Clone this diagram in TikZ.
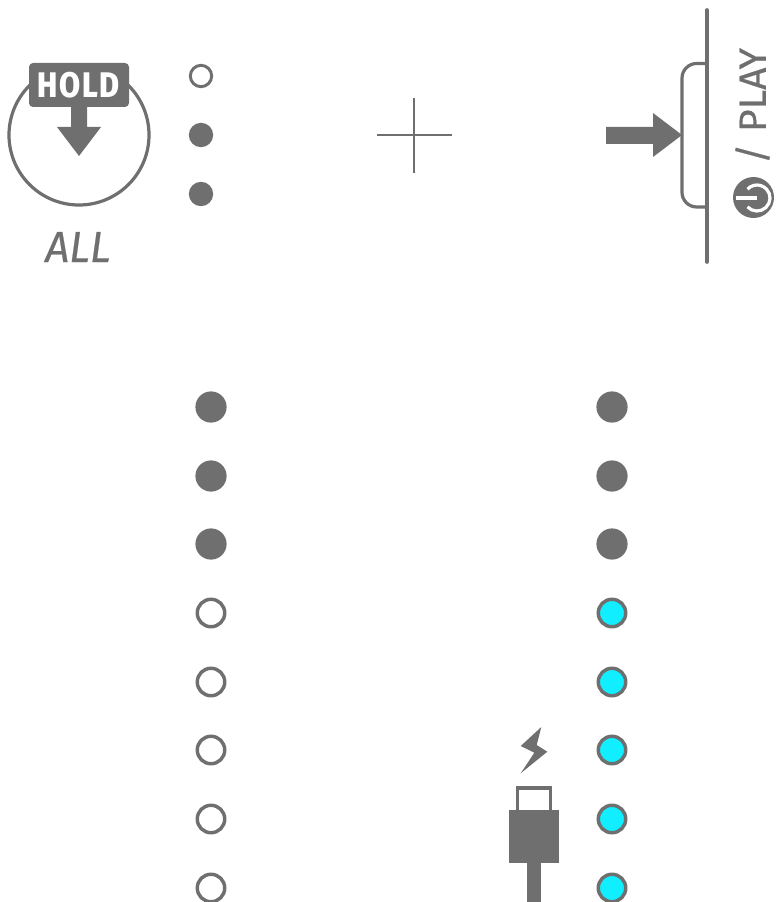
\documentclass[tikz,border=0pt]{standalone}
\usepackage{fontspec}
\usepackage{graphicx}
\setmainfont{Fira Sans}
\newfontfamily\holdfont[LetterSpace=6]{Fira Sans Medium}
\newfontfamily\labelfont[FakeBold=0.5]{Fira Sans}
\definecolor{ink}{HTML}{6F6F6F}
\definecolor{led}{HTML}{10EEFF}
\tikzset{
  x=0.75pt,y=-0.75pt,
  outline/.style={draw=ink,line width=2.4pt,fill=none},
  ledon/.style={circle,fill=ink,draw=none,inner sep=0pt,minimum size=23.4pt},
  ledoff/.style={circle,draw=ink,line width=2.6pt,fill=white,inner sep=0pt,minimum size=20.6pt},
  ledcyan/.style={circle,draw=ink,line width=2.6pt,fill=led,inner sep=0pt,minimum size=20.6pt},
  smallon/.style={circle,fill=ink,draw=none,inner sep=0pt,minimum size=18.3pt},
  smalloff/.style={circle,draw=ink,line width=2.2pt,fill=white,inner sep=0pt,minimum size=16pt},
}
\begin{document}
\begin{tikzpicture}
\useasboundingbox (0,0) rectangle (776,902);
% ALL knob
\node[circle,outline,inner sep=0pt,minimum size=105pt] (knob) at (79,135) {};
\fill[ink] (71,100) -- (87,100) -- (87,127) -- (101,127) -- (79,156) -- (57,127) -- (71,127) -- cycle;
\fill[ink,rounded corners=3pt] (29,63) rectangle (129,107);
\node[inner sep=0pt,text=white] (hold) at (78.5,85.5) {\resizebox{62pt}{19pt}{\holdfont\bfseries HOLD}};
\node[inner sep=0pt,text=ink] (all) at (78,247) {\resizebox{49pt}{22.5pt}{\labelfont\itshape ALL}};
% small LEDs
\node[smalloff] (s1) at (201,76) {};
\node[smallon] (s2) at (201,135) {};
\node[smallon] (s3) at (201,194) {};
% plus
\draw[ink,line width=1.6pt] (377,135) -- (452,135) (414,98) -- (414,173);
% button
\draw[ink,line width=2.7pt,line cap=round] (707,10) -- (707,262);
\draw[outline,rounded corners=11pt] (707,63.5) -- (682,63.5) -- (682,207) -- (707,207);
\fill[ink] (606,127) -- (653,127) -- (653,113) -- (682,135) -- (653,157) -- (653,144) -- (606,144) -- cycle;
\node[rotate=90,inner sep=0pt,text=ink] (play) at (752.5,106) {\resizebox{87pt}{23pt}{\labelfont /\kern0.3em PLAY}};
% power icon
\fill[ink] (753.5,197.5) circle[radius=20.5];
\draw[white,line width=2.4pt] (757,198) ++(137:13) arc[start angle=137,end angle=-137,radius=13];
\draw[white,line width=2.5pt] (736,198) -- (757,198);
% LED columns
\foreach \n/\y in {1/407,2/476,3/544}{
  \node[ledon] (a\n) at (211,\y) {};
  \node[ledon] (b\n) at (612,\y) {};
}
\foreach \n/\y in {4/613,5/682,6/750,7/819,8/888}{
  \node[ledoff] (a\n) at (211,\y) {};
  \node[ledcyan] (b\n) at (612,\y) {};
}
% bolt
\fill[ink] (541.3,727) -- (520.7,746) -- (534.3,752.7) -- (520.7,773.3) -- (547.3,751.7) -- (536.7,745) -- cycle;
% plug
\draw[outline] (517.5,811) -- (517.5,788) -- (550.7,788) -- (550.7,811);
\fill[ink] (509,810) rectangle (559,863);
\fill[ink] (527,863) rectangle (541,902);
\end{tikzpicture}
\end{document}
